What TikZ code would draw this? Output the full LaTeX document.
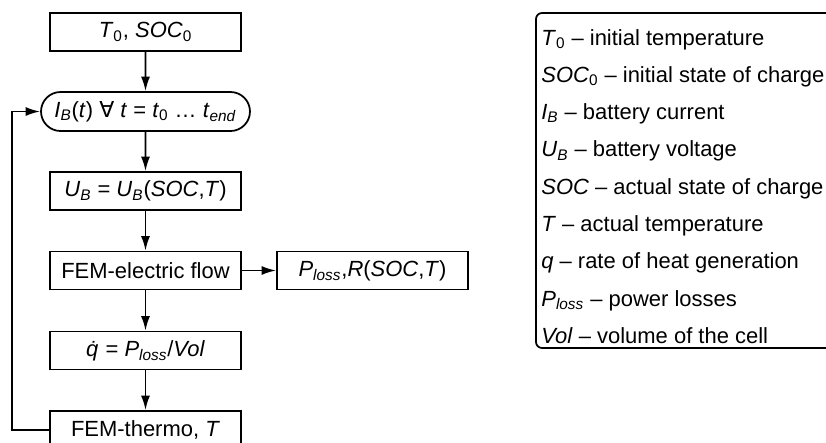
\documentclass[tikz,border=0pt]{standalone}
\usepackage{fontspec}
\setmainfont{Liberation Sans}
\newfontfamily\symfont{DejaVu Sans}
\usetikzlibrary{shapes.misc,arrows.meta,positioning}

\newcommand{\var}[1]{\textit{#1}}
\newcommand{\low}[1]{\textsubscript{#1}}

\tikzset{
    block/.style={draw, line width=1pt, minimum width=3.82cm, minimum height=0.76cm, inner sep=0pt},
    term/.style={rounded rectangle, draw, line width=1pt, minimum width=4.18cm, minimum height=0.78cm, inner sep=0pt},
    flow/.style={line width=1pt, -{Latex[length=2.9mm,width=1.8mm]}},
    legtext/.style={anchor=base west, inner sep=0pt}
}

\begin{document}
\begin{tikzpicture}[x=0.02cm, y=-0.02cm, font=\fontsize{12.5pt}{15pt}\selectfont]
                \clip (0,0) rectangle (826,443);
                % flow chart
                \node[block] (init) at (145.5,32) {\var{T}\low{0}, \var{SOC}\low{0}};
                \node[term] (load) at (145.5,111.5) {\var{I}\low{\var{B}}(\var{t}) {\symfont ∀} \var{t} = \var{t}\low{0} \dots{} \var{t}\low{\var{end}}};
                \node[block] (volt) at (145.5,191) {\var{U}\low{\var{B}} = \var{U}\low{\var{B}}(\var{SOC},\var{T})};
                \node[block] (elec) at (145.5,270.5) {FEM-electric flow};
                \node[block] (loss) at (372.5,270.5) {\var{P}\low{\var{loss}},\var{R}(\var{SOC},\var{T})};
                \node[block] (heat) at (145.5,350.5) {\var{\.q} = \var{P}\low{\var{loss}}/\var{Vol}};
                \node[block] (thermo) at (145.5,430) {FEM-thermo, \var{T}};

                \draw[flow] (init) -- (load);
                \draw[flow] (load) -- (volt);
                \draw[flow] (volt) -- (elec);
                \draw[flow] (elec) -- (loss);
                \draw[flow] (elec) -- (heat);
                \draw[flow] (heat) -- (thermo);
                \draw[flow] (thermo.west) -- ++(-37,0) |- (load.west);

                % legend
                \draw[line width=1pt, rounded corners=1.2mm] (536,13) rectangle (880,348);
                \foreach \txt [count=\k from 0] in {
                    {\var{T}\low{0} -- initial temperature},
                    {\var{SOC}\low{0} -- initial state of charge},
                    {\var{I}\low{\var{B}} -- battery current},
                    {\var{U}\low{\var{B}} -- battery voltage},
                    {\var{SOC} -- actual state of charge},
                    {\var{T} -- actual temperature},
                    {\var{q} -- rate of heat generation},
                    {\var{P}\low{\var{loss}} -- power losses},
                    {\var{Vol} -- volume of the cell}} {
                    \node[legtext] (leg\k) at (541,45+37.3*\k) {\txt};
                }
\end{tikzpicture}
\end{document}
